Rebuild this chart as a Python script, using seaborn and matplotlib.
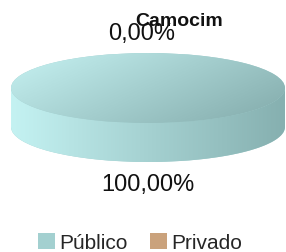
import numpy as np
import matplotlib.pyplot as plt
import seaborn as sns
from matplotlib.patches import PathPatch, Patch
from matplotlib.path import Path
from matplotlib.colors import LinearSegmentedColormap

# dados
categorias = ['Público', 'Privado']
valores = [100.0, 0.0]
cores = ['#a3d0d0', '#caa27c']
titulo = 'Camocim'

sns.set_theme(style='white')
plt.rcParams['font.family'] = ['Liberation Sans', 'DejaVu Sans']

W, H = 286, 252
fig = plt.figure(figsize=(W / 100, H / 100), dpi=100)

# eixo da pizza (elipse achatada com profundidade 3D)
ax = fig.add_axes([11 / W, 1 - 162 / H, 274 / W, 109 / H])
prof = 39 / 35

cmap_topo = LinearSegmentedColormap.from_list('topo', ['#c6f2f2', '#82aaaa'])
cmap_lado = LinearSegmentedColormap.from_list('lado', ['#c4f2f2', '#86b0b0'])

# lateral: pizza inferior + faixa
fundo, _ = ax.pie(valores, colors=cores, startangle=90, counterclock=False,
                  center=(0, -prof), radius=1, wedgeprops=dict(linewidth=0))
verts = [(-1, 0), (-1, -prof)]
for a in np.linspace(np.pi, 2 * np.pi, 80):
    verts.append((np.cos(a), -prof + np.sin(a)))
verts += [(1, 0), (-1, 0)]
lado = PathPatch(Path(verts), facecolor='none', edgecolor='none')
ax.add_patch(lado)
gx = np.linspace(0, 1, 200)[None, :].repeat(10, axis=0)
img = ax.imshow(gx, cmap=cmap_lado, extent=(-1, 1, -1 - prof, 0),
                aspect='auto', zorder=2)
img.set_clip_path(lado)

# topo
fatias, _ = ax.pie(valores, colors=cores, startangle=90, counterclock=False,
                   center=(0, 0), radius=1, wedgeprops=dict(linewidth=0))
for f in fatias:
    f.set_zorder(3)
xx, yy = np.meshgrid(np.linspace(0, 1, 200), np.linspace(0, 1, 100))
grad = 0.65 * xx + 0.35 * yy
img2 = ax.imshow(grad, cmap=cmap_topo, extent=(-1, 1, -1, 1),
                 aspect='auto', zorder=4, origin='upper')
img2.set_clip_path(fatias[0])

ax.set_xlim(-1, 1)
ax.set_ylim(-1 - prof, 1)
ax.set_aspect('auto')
ax.axis('off')

# rótulos de porcentagem
total = sum(valores)
for f, v in zip(fatias, valores):
    ang = np.deg2rad((f.theta1 + f.theta2) / 2)
    r = 1.55
    x, y = r * np.cos(ang), r * np.sin(ang)
    if y < 0:
        y -= prof * 1.1
    else:
        x -= 0.05
    txt = f'{v / total * 100:.2f}%'.replace('.', ',')
    ax.text(x, y, txt, ha='center', va='center', fontsize=17,
            color='#111111', clip_on=False, zorder=6)

fig.text(179 / W, 1 - 22 / H, titulo, ha='center', va='center',
         fontsize=14, fontweight='bold', color='#111111')

handles = [Patch(facecolor=c, edgecolor='none', label=l)
           for c, l in zip(cores, categorias)]
fig.legend(handles=handles, loc='center', bbox_to_anchor=(140 / W, 1 - 243 / H),
           ncol=2, frameon=False, fontsize=15, handlelength=0.8,
           handleheight=0.8, handletextpad=0.2, columnspacing=1.1,
           borderpad=0, borderaxespad=0)

fig.savefig('out.png', dpi=100, facecolor='white')
